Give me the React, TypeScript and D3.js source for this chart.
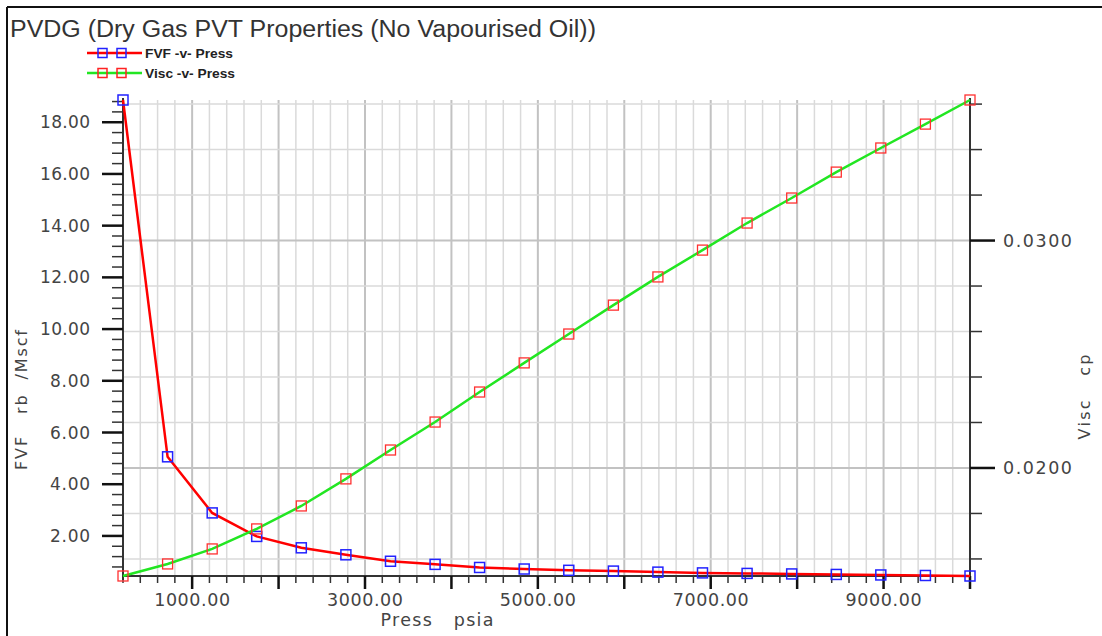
import React from "react";
import * as d3 from "d3";

// PVDG table: pressure (psia), gas FVF (rb/Mscf), gas viscosity (cp)
const pressure = [200, 716, 1232, 1747, 2263, 2779, 3295, 3811, 4326, 4842, 5358, 5874, 6389, 6905, 7421, 7937, 8453, 8968, 9484, 10000];
const fvf = [18.86, 5.06, 2.89, 1.98, 1.54, 1.27, 1.02, 0.9, 0.78, 0.72, 0.67, 0.64, 0.6, 0.57, 0.55, 0.53, 0.51, 0.49, 0.47, 0.45];
const visc = [0.01525, 0.01578, 0.01644, 0.01732, 0.01833, 0.01952, 0.02079, 0.02202, 0.02334, 0.02462, 0.02589, 0.02716, 0.0284, 0.02958, 0.03077, 0.03187, 0.03301, 0.03407, 0.03512, 0.03618];

const xLabelTicks = [1000, 3000, 5000, 7000, 9000];
const leftLabelTicks = [2, 4, 6, 8, 10, 12, 14, 16, 18];
const rightLabelTicks = [0.02, 0.03];

const W = 1102;
const H = 636;
const plot = { left: 123, right: 970, top: 100, bottom: 576 };

const FONT = "'DejaVu Sans', sans-serif";
const TITLE_FONT = "'Liberation Sans', Arial, sans-serif";

export default function App() {
  const x = d3.scaleLinear().domain(d3.extent(pressure) as [number, number]).range([plot.left, plot.right]);
  const yL = d3.scaleLinear().domain(d3.extent(fvf) as [number, number]).range([plot.bottom, plot.top]);
  const yR = d3.scaleLinear().domain(d3.extent(visc) as [number, number]).range([plot.bottom, plot.top]);

  const xMinor = d3.range(200, 10001, 200);
  const lMinor = d3.range(2, 48).map((i) => +(i * 0.4).toFixed(2)).filter((v) => v <= 18.86);
  const rMinor = d3.range(8, 19).map((i) => +(i * 0.002).toFixed(3)).filter((v) => v <= 0.03618 && v >= 0.01525);

  const fvfLine = d3.line<number>().x((_, i) => x(pressure[i])).y((d) => yL(d))(fvf) || "";
  const viscLine = d3.line<number>().x((_, i) => x(pressure[i])).y((d) => yR(d))(visc) || "";

  const isMajorX = (v: number) => v % 1000 === 0;
  const isMajorR = (v: number) => Math.abs(v * 100 - Math.round(v * 100)) < 1e-6;

  return (
    <svg width={W} height={H} style={{ position: "absolute", left: 0, top: 0, background: "#fff" }}>
      <rect x={0} y={0} width={W} height={H} fill="#fff" />
      {/* frame */}
      <line x1={7} y1={7} x2={W} y2={7} stroke="#111" strokeWidth={2} />
      <line x1={7} y1={7} x2={7} y2={H} stroke="#111" strokeWidth={2} />

      <text x={10} y={37} fontFamily={TITLE_FONT} fontSize={23} fill="#333" textLength={586} lengthAdjust="spacingAndGlyphs">
        PVDG (Dry Gas PVT Properties (No Vapourised Oil))
      </text>

      {/* legend */}
      <g>
        <line x1={87} x2={142} y1={53} y2={53} stroke="#ff0000" strokeWidth={2.5} />
        <rect x={98} y={48.5} width={9} height={9} fill="none" stroke="#2222ff" strokeWidth={1.5} />
        <rect x={117} y={48.5} width={9} height={9} fill="none" stroke="#2222ff" strokeWidth={1.5} />
        <text x={145} y={57.5} fontFamily={TITLE_FONT} fontWeight="bold" fontSize={13} fill="#222" textLength={88} lengthAdjust="spacingAndGlyphs">FVF -v- Press</text>
        <line x1={87} x2={142} y1={73} y2={73} stroke="#22e622" strokeWidth={2.5} />
        <rect x={98} y={68.5} width={9} height={9} fill="none" stroke="#ff2222" strokeWidth={1.5} />
        <rect x={117} y={68.5} width={9} height={9} fill="none" stroke="#ff2222" strokeWidth={1.5} />
        <text x={145} y={77.5} fontFamily={TITLE_FONT} fontWeight="bold" fontSize={13} fill="#222" textLength={90} lengthAdjust="spacingAndGlyphs">Visc -v- Press</text>
      </g>

      {/* grid */}
      <g>
        {xMinor.map((v) => (
          <line key={"gx" + v} x1={x(v)} x2={x(v)} y1={plot.top} y2={plot.bottom}
            stroke={isMajorX(v) ? "#c2c2c2" : "#dadada"} strokeWidth={isMajorX(v) ? 2 : 1.5} />
        ))}
        {rMinor.map((v) => (
          <line key={"gy" + v} x1={plot.left} x2={plot.right} y1={yR(v)} y2={yR(v)}
            stroke={isMajorR(v) ? "#c2c2c2" : "#dadada"} strokeWidth={isMajorR(v) ? 2 : 1.5} />
        ))}
      </g>

      {/* axes */}
      <g stroke="#333" strokeWidth={2}>
        <line x1={plot.left} x2={plot.left} y1={plot.top - 2} y2={plot.bottom + 4} />
        <line x1={plot.right} x2={plot.right} y1={plot.top - 2} y2={plot.bottom + 10} />
        <line x1={plot.left} x2={plot.right} y1={plot.bottom} y2={plot.bottom} />
        {xMinor.map((v) => (
          <line key={"tx" + v} x1={x(v)} x2={x(v)} y1={plot.bottom} y2={plot.bottom + (isMajorX(v) ? 13 : 7)} strokeWidth={isMajorX(v) ? 2.5 : 1.5} stroke={isMajorX(v) ? "#111" : "#333"} />
        ))}
        {lMinor.map((v) => {
          const major = Math.abs(v / 2 - Math.round(v / 2)) < 1e-6;
          return (
            <line key={"tl" + v} x1={plot.left - (major ? 21 : 11)} x2={plot.left} y1={yL(v)} y2={yL(v)}
              strokeWidth={major ? 2.5 : 1.5} stroke={major ? "#111" : "#333"} />
          );
        })}
        {rMinor.map((v) => (
          <line key={"tr" + v} x1={plot.right} x2={plot.right + (isMajorR(v) ? 25 : 12)} y1={yR(v)} y2={yR(v)}
            strokeWidth={isMajorR(v) ? 2.5 : 1.5} stroke={isMajorR(v) ? "#111" : "#333"} />
        ))}
      </g>

      {/* tick labels */}
      <g fontFamily={FONT} fill="#444">
        {xLabelTicks.map((v) => (
          <text key={"lx" + v} x={x(v)} y={606} textAnchor="middle" fontSize={17.5} textLength={76} lengthAdjust="spacing">{d3.format(".2f")(v)}</text>
        ))}
        {leftLabelTicks.map((v) => (
          <text key={"ll" + v} x={90} y={yL(v)} dy="0.36em" textAnchor="end" fontSize={17} textLength={v >= 10 ? 50 : 40} lengthAdjust="spacing">{d3.format(".2f")(v)}</text>
        ))}
        {rightLabelTicks.map((v) => (
          <text key={"lr" + v} x={1003} y={yR(v)} dy="0.36em" textAnchor="start" fontSize={17.5} textLength={69} lengthAdjust="spacing">{d3.format(".4f")(v)}</text>
        ))}
      </g>

      {/* axis titles */}
      <g fontFamily={FONT} fill="#444">
        <text x={437} y={626} textAnchor="middle" fontSize={17.5} textLength={113} lengthAdjust="spacing" style={{ whiteSpace: "pre" }}>{"Press   psia"}</text>
        <text transform="translate(27,400) rotate(-90)" textAnchor="middle" fontSize={16} textLength={140} lengthAdjust="spacing" style={{ whiteSpace: "pre" }}>{"FVF   rb  /Mscf"}</text>
        <text transform="translate(1090,397) rotate(-90)" textAnchor="middle" fontSize={16} textLength={85} lengthAdjust="spacing" style={{ whiteSpace: "pre" }}>{"Visc   cp"}</text>
      </g>

      {/* FVF series */}
      <path d={fvfLine} fill="none" stroke="#ff0000" strokeWidth={2.5} />
      {fvf.map((v, i) => (
        <rect key={"mf" + i} x={x(pressure[i]) - 5} y={yL(v) - 5} width={10} height={10} fill="none" stroke="#2222ff" strokeWidth={1.5} />
      ))}

      {/* viscosity series */}
      <path d={viscLine} fill="none" stroke="#22e622" strokeWidth={2.5} />
      {visc.map((v, i) => (
        <rect key={"mv" + i} x={x(pressure[i]) - 5} y={yR(v) - 5} width={10} height={10} fill="none" stroke="#ff3030" strokeWidth={1.3} />
      ))}
    </svg>
  );
}
